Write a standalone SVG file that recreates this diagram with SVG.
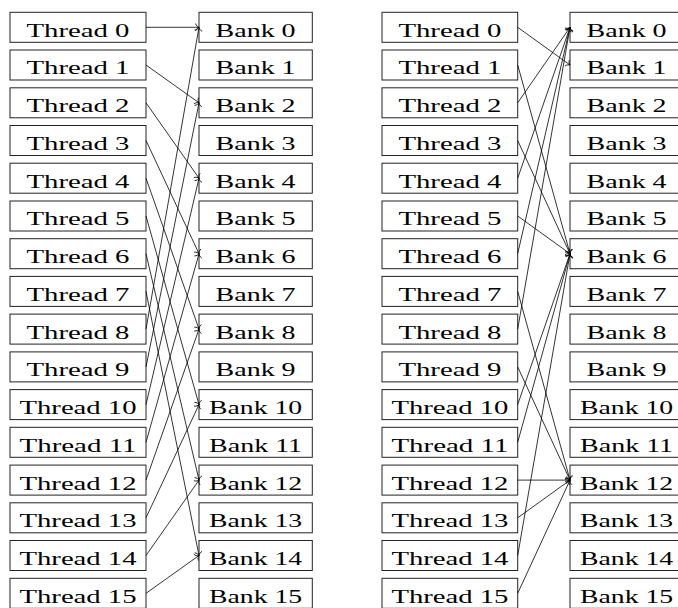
<svg xmlns="http://www.w3.org/2000/svg" width="678" height="608" viewBox="0 0 678 608">
  <style>
    .box rect { fill: #fff; stroke: #222; stroke-width: 1; }
    .box text { font-family: "Liberation Serif", "DejaVu Serif", serif; font-size: 19px; fill: #000; text-anchor: middle; }
    .wires line { stroke: #000; stroke-width: 0.8; fill: none; marker-end: url(#to); }
  </style>
  <defs>
    <marker id="to" viewBox="-5 -5 10 10" refX="0" refY="0" markerWidth="10" markerHeight="10" markerUnits="userSpaceOnUse" orient="auto" overflow="visible">
      <path d="M-3.4,-3.8 C-2.9,-1.6 -1.1,-0.4 0,0 C-1.1,0.4 -2.9,1.6 -3.4,3.8" fill="none" stroke="#000" stroke-width="0.8"/>
    </marker>
  </defs>

  <!-- stride-2 access: thread i -> bank 2i mod 16 -->
  <g id="left-threads">
    <g id="lt0" class="box"><rect x="10" y="12.3" width="136" height="30"/><text x="78" y="36.7" textLength="103" lengthAdjust="spacingAndGlyphs">Thread 0</text></g>
    <g id="lt1" class="box"><rect x="10" y="50.0" width="136" height="30"/><text x="78" y="74.4" textLength="103" lengthAdjust="spacingAndGlyphs">Thread 1</text></g>
    <g id="lt2" class="box"><rect x="10" y="87.8" width="136" height="30"/><text x="78" y="112.2" textLength="103" lengthAdjust="spacingAndGlyphs">Thread 2</text></g>
    <g id="lt3" class="box"><rect x="10" y="125.5" width="136" height="30"/><text x="78" y="149.9" textLength="103" lengthAdjust="spacingAndGlyphs">Thread 3</text></g>
    <g id="lt4" class="box"><rect x="10" y="163.2" width="136" height="30"/><text x="78" y="187.6" textLength="103" lengthAdjust="spacingAndGlyphs">Thread 4</text></g>
    <g id="lt5" class="box"><rect x="10" y="201.0" width="136" height="30"/><text x="78" y="225.4" textLength="103" lengthAdjust="spacingAndGlyphs">Thread 5</text></g>
    <g id="lt6" class="box"><rect x="10" y="238.7" width="136" height="30"/><text x="78" y="263.1" textLength="103" lengthAdjust="spacingAndGlyphs">Thread 6</text></g>
    <g id="lt7" class="box"><rect x="10" y="276.4" width="136" height="30"/><text x="78" y="300.8" textLength="103" lengthAdjust="spacingAndGlyphs">Thread 7</text></g>
    <g id="lt8" class="box"><rect x="10" y="314.1" width="136" height="30"/><text x="78" y="338.5" textLength="103" lengthAdjust="spacingAndGlyphs">Thread 8</text></g>
    <g id="lt9" class="box"><rect x="10" y="351.9" width="136" height="30"/><text x="78" y="376.3" textLength="103" lengthAdjust="spacingAndGlyphs">Thread 9</text></g>
    <g id="lt10" class="box"><rect x="10" y="389.6" width="136" height="30"/><text x="78" y="414.0" textLength="117" lengthAdjust="spacingAndGlyphs">Thread 10</text></g>
    <g id="lt11" class="box"><rect x="10" y="427.3" width="136" height="30"/><text x="78" y="451.7" textLength="117" lengthAdjust="spacingAndGlyphs">Thread 11</text></g>
    <g id="lt12" class="box"><rect x="10" y="465.1" width="136" height="30"/><text x="78" y="489.5" textLength="117" lengthAdjust="spacingAndGlyphs">Thread 12</text></g>
    <g id="lt13" class="box"><rect x="10" y="502.8" width="136" height="30"/><text x="78" y="527.2" textLength="117" lengthAdjust="spacingAndGlyphs">Thread 13</text></g>
    <g id="lt14" class="box"><rect x="10" y="540.5" width="136" height="30"/><text x="78" y="564.9" textLength="117" lengthAdjust="spacingAndGlyphs">Thread 14</text></g>
    <g id="lt15" class="box"><rect x="10" y="578.3" width="136" height="30"/><text x="78" y="602.7" textLength="117" lengthAdjust="spacingAndGlyphs">Thread 15</text></g>
  </g>

  <g id="left-banks">
    <g id="lb0" class="box"><rect x="199" y="12.3" width="113.3" height="30"/><text x="255.6" y="36.7" textLength="80" lengthAdjust="spacingAndGlyphs">Bank 0</text></g>
    <g id="lb1" class="box"><rect x="199" y="50.0" width="113.3" height="30"/><text x="255.6" y="74.4" textLength="80" lengthAdjust="spacingAndGlyphs">Bank 1</text></g>
    <g id="lb2" class="box"><rect x="199" y="87.8" width="113.3" height="30"/><text x="255.6" y="112.2" textLength="80" lengthAdjust="spacingAndGlyphs">Bank 2</text></g>
    <g id="lb3" class="box"><rect x="199" y="125.5" width="113.3" height="30"/><text x="255.6" y="149.9" textLength="80" lengthAdjust="spacingAndGlyphs">Bank 3</text></g>
    <g id="lb4" class="box"><rect x="199" y="163.2" width="113.3" height="30"/><text x="255.6" y="187.6" textLength="80" lengthAdjust="spacingAndGlyphs">Bank 4</text></g>
    <g id="lb5" class="box"><rect x="199" y="201.0" width="113.3" height="30"/><text x="255.6" y="225.4" textLength="80" lengthAdjust="spacingAndGlyphs">Bank 5</text></g>
    <g id="lb6" class="box"><rect x="199" y="238.7" width="113.3" height="30"/><text x="255.6" y="263.1" textLength="80" lengthAdjust="spacingAndGlyphs">Bank 6</text></g>
    <g id="lb7" class="box"><rect x="199" y="276.4" width="113.3" height="30"/><text x="255.6" y="300.8" textLength="80" lengthAdjust="spacingAndGlyphs">Bank 7</text></g>
    <g id="lb8" class="box"><rect x="199" y="314.1" width="113.3" height="30"/><text x="255.6" y="338.5" textLength="80" lengthAdjust="spacingAndGlyphs">Bank 8</text></g>
    <g id="lb9" class="box"><rect x="199" y="351.9" width="113.3" height="30"/><text x="255.6" y="376.3" textLength="80" lengthAdjust="spacingAndGlyphs">Bank 9</text></g>
    <g id="lb10" class="box"><rect x="199" y="389.6" width="113.3" height="30"/><text x="255.6" y="414.0" textLength="93" lengthAdjust="spacingAndGlyphs">Bank 10</text></g>
    <g id="lb11" class="box"><rect x="199" y="427.3" width="113.3" height="30"/><text x="255.6" y="451.7" textLength="93" lengthAdjust="spacingAndGlyphs">Bank 11</text></g>
    <g id="lb12" class="box"><rect x="199" y="465.1" width="113.3" height="30"/><text x="255.6" y="489.5" textLength="93" lengthAdjust="spacingAndGlyphs">Bank 12</text></g>
    <g id="lb13" class="box"><rect x="199" y="502.8" width="113.3" height="30"/><text x="255.6" y="527.2" textLength="93" lengthAdjust="spacingAndGlyphs">Bank 13</text></g>
    <g id="lb14" class="box"><rect x="199" y="540.5" width="113.3" height="30"/><text x="255.6" y="564.9" textLength="93" lengthAdjust="spacingAndGlyphs">Bank 14</text></g>
    <g id="lb15" class="box"><rect x="199" y="578.3" width="113.3" height="30"/><text x="255.6" y="602.7" textLength="93" lengthAdjust="spacingAndGlyphs">Bank 15</text></g>
  </g>

  <!-- irregular access with bank conflicts -->
  <g id="right-threads">
    <g id="rt0" class="box"><rect x="382" y="12.3" width="135.7" height="30"/><text x="449.9" y="36.7" textLength="103" lengthAdjust="spacingAndGlyphs">Thread 0</text></g>
    <g id="rt1" class="box"><rect x="382" y="50.0" width="135.7" height="30"/><text x="449.9" y="74.4" textLength="103" lengthAdjust="spacingAndGlyphs">Thread 1</text></g>
    <g id="rt2" class="box"><rect x="382" y="87.8" width="135.7" height="30"/><text x="449.9" y="112.2" textLength="103" lengthAdjust="spacingAndGlyphs">Thread 2</text></g>
    <g id="rt3" class="box"><rect x="382" y="125.5" width="135.7" height="30"/><text x="449.9" y="149.9" textLength="103" lengthAdjust="spacingAndGlyphs">Thread 3</text></g>
    <g id="rt4" class="box"><rect x="382" y="163.2" width="135.7" height="30"/><text x="449.9" y="187.6" textLength="103" lengthAdjust="spacingAndGlyphs">Thread 4</text></g>
    <g id="rt5" class="box"><rect x="382" y="201.0" width="135.7" height="30"/><text x="449.9" y="225.4" textLength="103" lengthAdjust="spacingAndGlyphs">Thread 5</text></g>
    <g id="rt6" class="box"><rect x="382" y="238.7" width="135.7" height="30"/><text x="449.9" y="263.1" textLength="103" lengthAdjust="spacingAndGlyphs">Thread 6</text></g>
    <g id="rt7" class="box"><rect x="382" y="276.4" width="135.7" height="30"/><text x="449.9" y="300.8" textLength="103" lengthAdjust="spacingAndGlyphs">Thread 7</text></g>
    <g id="rt8" class="box"><rect x="382" y="314.1" width="135.7" height="30"/><text x="449.9" y="338.5" textLength="103" lengthAdjust="spacingAndGlyphs">Thread 8</text></g>
    <g id="rt9" class="box"><rect x="382" y="351.9" width="135.7" height="30"/><text x="449.9" y="376.3" textLength="103" lengthAdjust="spacingAndGlyphs">Thread 9</text></g>
    <g id="rt10" class="box"><rect x="382" y="389.6" width="135.7" height="30"/><text x="449.9" y="414.0" textLength="117" lengthAdjust="spacingAndGlyphs">Thread 10</text></g>
    <g id="rt11" class="box"><rect x="382" y="427.3" width="135.7" height="30"/><text x="449.9" y="451.7" textLength="117" lengthAdjust="spacingAndGlyphs">Thread 11</text></g>
    <g id="rt12" class="box"><rect x="382" y="465.1" width="135.7" height="30"/><text x="449.9" y="489.5" textLength="117" lengthAdjust="spacingAndGlyphs">Thread 12</text></g>
    <g id="rt13" class="box"><rect x="382" y="502.8" width="135.7" height="30"/><text x="449.9" y="527.2" textLength="117" lengthAdjust="spacingAndGlyphs">Thread 13</text></g>
    <g id="rt14" class="box"><rect x="382" y="540.5" width="135.7" height="30"/><text x="449.9" y="564.9" textLength="117" lengthAdjust="spacingAndGlyphs">Thread 14</text></g>
    <g id="rt15" class="box"><rect x="382" y="578.3" width="135.7" height="30"/><text x="449.9" y="602.7" textLength="117" lengthAdjust="spacingAndGlyphs">Thread 15</text></g>
  </g>

  <g id="right-banks">
    <g id="rb0" class="box"><rect x="570" y="12.3" width="113.3" height="30"/><text x="626.6" y="36.7" textLength="80" lengthAdjust="spacingAndGlyphs">Bank 0</text></g>
    <g id="rb1" class="box"><rect x="570" y="50.0" width="113.3" height="30"/><text x="626.6" y="74.4" textLength="80" lengthAdjust="spacingAndGlyphs">Bank 1</text></g>
    <g id="rb2" class="box"><rect x="570" y="87.8" width="113.3" height="30"/><text x="626.6" y="112.2" textLength="80" lengthAdjust="spacingAndGlyphs">Bank 2</text></g>
    <g id="rb3" class="box"><rect x="570" y="125.5" width="113.3" height="30"/><text x="626.6" y="149.9" textLength="80" lengthAdjust="spacingAndGlyphs">Bank 3</text></g>
    <g id="rb4" class="box"><rect x="570" y="163.2" width="113.3" height="30"/><text x="626.6" y="187.6" textLength="80" lengthAdjust="spacingAndGlyphs">Bank 4</text></g>
    <g id="rb5" class="box"><rect x="570" y="201.0" width="113.3" height="30"/><text x="626.6" y="225.4" textLength="80" lengthAdjust="spacingAndGlyphs">Bank 5</text></g>
    <g id="rb6" class="box"><rect x="570" y="238.7" width="113.3" height="30"/><text x="626.6" y="263.1" textLength="80" lengthAdjust="spacingAndGlyphs">Bank 6</text></g>
    <g id="rb7" class="box"><rect x="570" y="276.4" width="113.3" height="30"/><text x="626.6" y="300.8" textLength="80" lengthAdjust="spacingAndGlyphs">Bank 7</text></g>
    <g id="rb8" class="box"><rect x="570" y="314.1" width="113.3" height="30"/><text x="626.6" y="338.5" textLength="80" lengthAdjust="spacingAndGlyphs">Bank 8</text></g>
    <g id="rb9" class="box"><rect x="570" y="351.9" width="113.3" height="30"/><text x="626.6" y="376.3" textLength="80" lengthAdjust="spacingAndGlyphs">Bank 9</text></g>
    <g id="rb10" class="box"><rect x="570" y="389.6" width="113.3" height="30"/><text x="626.6" y="414.0" textLength="93" lengthAdjust="spacingAndGlyphs">Bank 10</text></g>
    <g id="rb11" class="box"><rect x="570" y="427.3" width="113.3" height="30"/><text x="626.6" y="451.7" textLength="93" lengthAdjust="spacingAndGlyphs">Bank 11</text></g>
    <g id="rb12" class="box"><rect x="570" y="465.1" width="113.3" height="30"/><text x="626.6" y="489.5" textLength="93" lengthAdjust="spacingAndGlyphs">Bank 12</text></g>
    <g id="rb13" class="box"><rect x="570" y="502.8" width="113.3" height="30"/><text x="626.6" y="527.2" textLength="93" lengthAdjust="spacingAndGlyphs">Bank 13</text></g>
    <g id="rb14" class="box"><rect x="570" y="540.5" width="113.3" height="30"/><text x="626.6" y="564.9" textLength="93" lengthAdjust="spacingAndGlyphs">Bank 14</text></g>
    <g id="rb15" class="box"><rect x="570" y="578.3" width="113.3" height="30"/><text x="626.6" y="602.7" textLength="93" lengthAdjust="spacingAndGlyphs">Bank 15</text></g>
  </g>

  <g id="connectors" class="wires">
    <!-- left: thread i -> bank 2i mod 16 -->
    <line x1="146" y1="27.3" x2="199" y2="27.3"/>
    <line x1="146" y1="65.0" x2="199" y2="102.8"/>
    <line x1="146" y1="102.8" x2="199" y2="178.2"/>
    <line x1="146" y1="140.5" x2="199" y2="253.7"/>
    <line x1="146" y1="178.2" x2="199" y2="329.1"/>
    <line x1="146" y1="216.0" x2="199" y2="404.6"/>
    <line x1="146" y1="253.7" x2="199" y2="480.1"/>
    <line x1="146" y1="291.4" x2="199" y2="555.5"/>
    <line x1="146" y1="329.1" x2="199" y2="27.3"/>
    <line x1="146" y1="366.9" x2="199" y2="102.8"/>
    <line x1="146" y1="404.6" x2="199" y2="178.2"/>
    <line x1="146" y1="442.3" x2="199" y2="253.7"/>
    <line x1="146" y1="480.1" x2="199" y2="329.1"/>
    <line x1="146" y1="517.8" x2="199" y2="404.6"/>
    <line x1="146" y1="555.5" x2="199" y2="480.1"/>
    <line x1="146" y1="593.3" x2="199" y2="555.5"/>
    <!-- right: conflicting accesses -->
    <line x1="517.7" y1="27.3" x2="570" y2="65.0"/>
    <line x1="517.7" y1="65.0" x2="570" y2="253.7"/>
    <line x1="517.7" y1="102.8" x2="570" y2="27.3"/>
    <line x1="517.7" y1="140.5" x2="570" y2="253.7"/>
    <line x1="517.7" y1="178.2" x2="570" y2="27.3"/>
    <line x1="517.7" y1="216.0" x2="570" y2="253.7"/>
    <line x1="517.7" y1="253.7" x2="570" y2="27.3"/>
    <line x1="517.7" y1="291.4" x2="570" y2="480.1"/>
    <line x1="517.7" y1="329.1" x2="570" y2="27.3"/>
    <line x1="517.7" y1="366.9" x2="570" y2="480.1"/>
    <line x1="517.7" y1="404.6" x2="570" y2="253.7"/>
    <line x1="517.7" y1="442.3" x2="570" y2="253.7"/>
    <line x1="517.7" y1="480.1" x2="570" y2="480.1"/>
    <line x1="517.7" y1="517.8" x2="570" y2="480.1"/>
    <line x1="517.7" y1="555.5" x2="570" y2="253.7"/>
    <line x1="517.7" y1="593.3" x2="570" y2="480.1"/>
  </g>
</svg>
